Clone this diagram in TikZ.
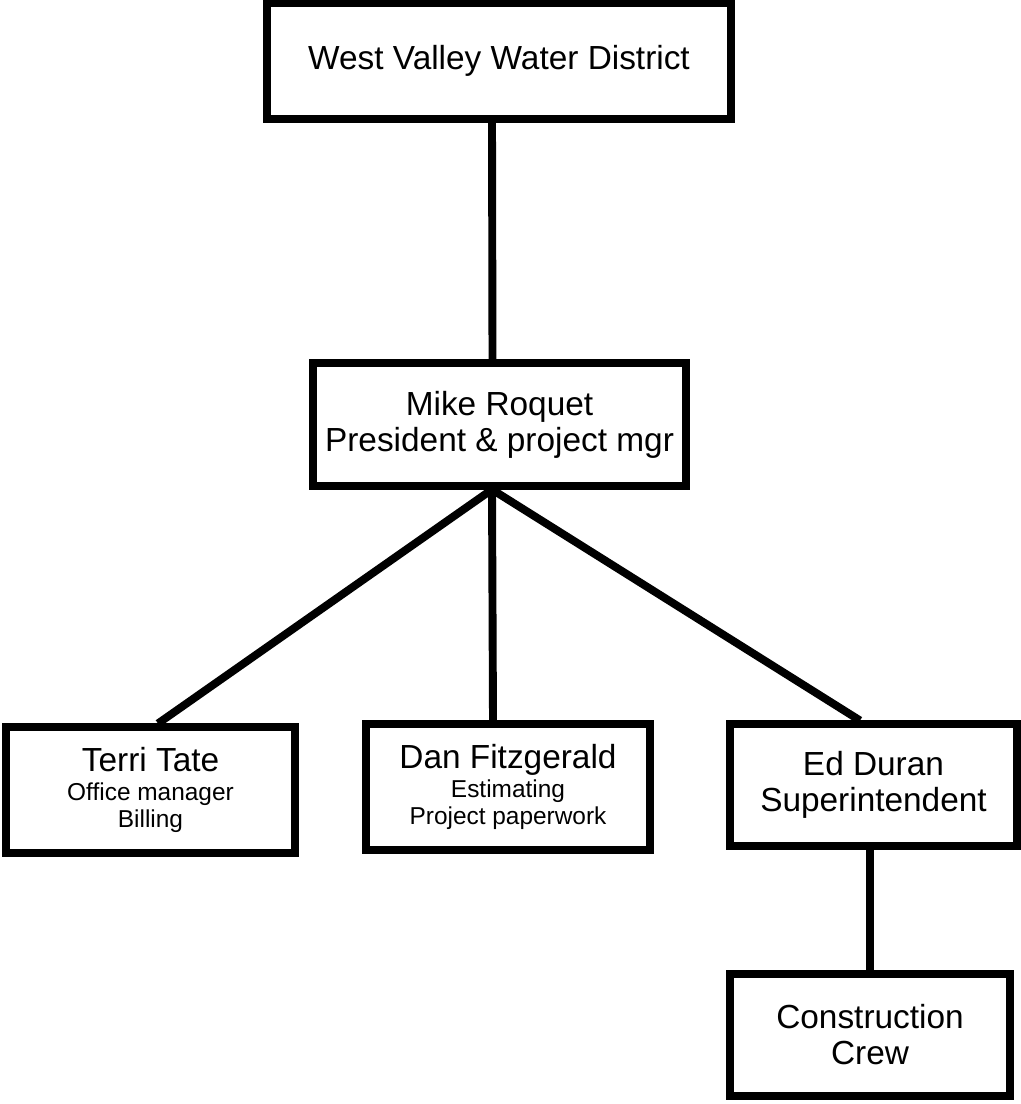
\documentclass[tikz,border=0pt]{standalone}
\usepackage{fontspec}
\setmainfont{Liberation Sans}
\newcommand{\namefont}{\fontsize{19}{20.5}\selectfont}
\newcommand{\dutyfont}{\fontsize{13.9}{15.5}\selectfont}
\tikzset{
	box/.style={draw, line width=4pt, inner sep=0pt, align=center, font=\namefont},
	dutybox/.style={box, font=\dutyfont},
	link/.style={line width=4.5pt}
}
\begin{document}
\begin{tikzpicture}
		\useasboundingbox[fill=white] (0,0) rectangle (20.42,-22.08);
		\node[box, minimum width=9.28cm, minimum height=2.32cm] (wvwd) at (9.98,-1.22) {West Valley Water District};
		\node[box, minimum width=7.46cm, minimum height=2.46cm] (mike) at (9.99,-8.49) {Mike Roquet\\President \& project mgr};
		\node[dutybox, minimum width=5.78cm, minimum height=2.52cm] (terri) at (3.01,-15.8) {{\namefont Terri Tate}\\[1pt]Office manager\\Billing};
		\node[dutybox, minimum width=5.68cm, minimum height=2.52cm] (dan) at (10.16,-15.74) {{\namefont Dan Fitzgerald}\\[1pt]Estimating\\Project paperwork};
		\node[box, minimum width=5.74cm, minimum height=2.44cm] (ed) at (17.47,-15.7) {Ed Duran\\Superintendent};
		\node[box, minimum width=5.6cm, minimum height=2.44cm] (crew) at (17.4,-20.7) {Construction\\Crew};
		\draw[link] ([xshift=-1.4mm]wvwd.south) -- ([xshift=-1.4mm]mike.north);
		\draw[link] ([xshift=-1.5mm]mike.south) -- ([xshift=1.5mm]terri.north);
		\draw[link] ([xshift=-1.5mm]mike.south) -- ([xshift=-3mm]dan.north);
		\draw[link] ([xshift=-1.5mm]mike.south) -- ([xshift=-2.7mm]ed.north);
		\draw[link] ([xshift=-0.7mm]ed.south) -- (crew.north);
	\end{tikzpicture}
\end{document}
